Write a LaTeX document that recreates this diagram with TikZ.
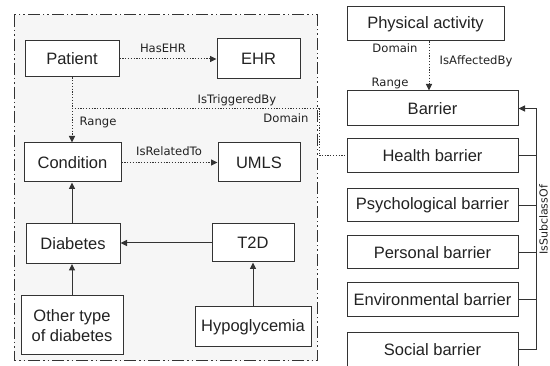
\documentclass[tikz,border=0pt]{standalone}
\usepackage{fontspec}
\setmainfont{Liberation Sans}
\newfontfamily\lblfont{DejaVu Sans}
\usetikzlibrary{arrows.meta}
\definecolor{ink}{HTML}{222222}
\definecolor{edge}{HTML}{333333}
\definecolor{panel}{HTML}{F6F6F6}
\tikzset{
  box/.style={draw=edge, line width=1pt, fill=white, inner sep=0pt, text=ink,
    font=\fontsize{16.5}{20}\selectfont, align=center},
  lbl/.style={text=ink, inner sep=0pt, font=\lblfont\fontsize{11.6}{13}\selectfont},
  tip/.style={-{Triangle[length=6.5pt,width=6pt]}},
  dotline/.style={draw=edge, line width=1pt, dash pattern=on 1.2pt off 1.6pt},
  solidline/.style={draw=edge, line width=1pt},
}
\begin{document}
\begin{tikzpicture}[x=1pt,y=-1pt]
\useasboundingbox (0,0) rectangle (550,366);
\clip (0,0) rectangle (550,366);
\fill[white] (0,0) rectangle (550,366);
% dashed panel
\draw[draw=edge, fill=panel, line width=1pt,
  dash pattern=on 12pt off 3pt on 1.5pt off 3pt on 1.5pt off 3pt]
  (14,15) rectangle (317,361);
% left nodes
\node[box, minimum width=94pt, minimum height=36pt] (pat) at (72,59) {Patient};
\node[box, minimum width=83pt, minimum height=40pt] (ehr) at (258.5,59) {EHR};
\node[box, minimum width=97pt, minimum height=39pt] (cond) at (72.5,162.5) {Condition};
\node[box, minimum width=82pt, minimum height=39pt] (umls) at (259,162.5) {UMLS};
\node[box, minimum width=94pt, minimum height=40pt] (diab) at (73,243.5) {Diabetes};
\node[box, minimum width=82pt, minimum height=38pt] (t2d) at (253,243) {T2D};
\node[box, minimum width=102pt, minimum height=59pt] (other) at (72,325.5) {Other type\\of diabetes};
\node[box, minimum width=116pt, minimum height=40pt] (hypo) at (253,327) {Hypoglycemia};
% right nodes
\node[box, minimum width=157pt, minimum height=34pt] (phys) at (425.5,24) {Physical activity};
\node[box, minimum width=171pt, minimum height=35pt] (bar) at (432.5,108.5) {Barrier};
\node[box, minimum width=171pt, minimum height=34pt] (health) at (432.5,156) {Health barrier};
\node[box, minimum width=171pt, minimum height=33pt] (psych) at (432.5,205.5) {Psychological barrier};
\node[box, minimum width=171pt, minimum height=33pt] (pers) at (432.5,252.5) {Personal barrier};
\node[box, minimum width=171pt, minimum height=34pt] (env) at (432.5,300) {Environmental barrier};
\node[box, minimum width=171pt, minimum height=34pt] (soc) at (432.5,350) {Social barrier};
% dotted connectors
\draw[dotline, tip] (pat.east) -- (ehr.west);
\draw[dotline, tip] (pat.south) -- (pat.south |- cond.north);
\draw[dotline, tip] (cond.east) -- (umls.west);
\coordinate (tb) at (72,109);
\coordinate (tc) at (319.5,109);
\draw[dotline] (tb) -- (tc) |- (health.west);
\draw[dotline, tip] (phys.south -| 429,0) -- (bar.north -| 429,0);
% labels
\node[lbl] (l1) at (163,48) {HasEHR};
\node[lbl] (l2) at (98,122) {Range};
\node[lbl] (l3) at (237,100) {IsTriggeredBy};
\node[lbl] (l4) at (286,118) {Domain};
\node[lbl] (l5) at (169,151) {IsRelatedTo};
\node[lbl] (l6) at (395,48) {Domain};
\node[lbl] (l7) at (476,61) {IsAffectedBy};
\node[lbl] (l8) at (390,83) {Range};
% solid arrows
\draw[solidline, tip] (diab.north -| 72,0) -- (cond.south -| 72,0);
\draw[solidline, tip] (other.north -| 72,0) -- (diab.south -| 72,0);
\draw[solidline, tip] (t2d.west) -- (diab.east |- t2d.west);
\draw[solidline, tip] (hypo.north) -- (t2d.south);
% subclass
\coordinate (sc) at (536,0);
\draw[solidline, tip] (soc.east) -- (soc.east -| sc) -- (bar.east -| sc) -- (bar.east);
\draw[solidline] (health.east) -- (health.east -| sc);
\draw[solidline] (psych.east) -- (psych.east -| sc);
\draw[solidline] (pers.east) -- (pers.east -| sc);
\draw[solidline] (env.east) -- (env.east -| sc);
\node[lbl, rotate=90, font=\lblfont\fontsize{11}{12}\selectfont] (l9) at (543.5,220) {IsSubclassOf};
\end{tikzpicture}
\end{document}
